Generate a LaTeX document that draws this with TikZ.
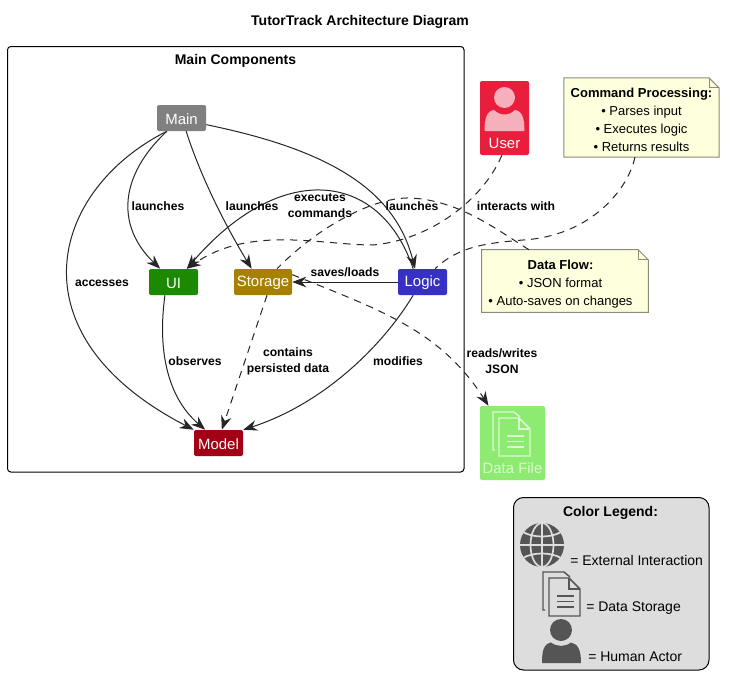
\documentclass[tikz,border=0pt]{standalone}
\usepackage{fontspec}
\setmainfont{Liberation Sans}
\usetikzlibrary{arrows.meta,backgrounds}
\definecolor{cuser}{HTML}{E91E3C}
\definecolor{cpink}{HTML}{F6B0BC}
\definecolor{cui}{HTML}{1B8A00}
\definecolor{cstorage}{HTML}{A88000}
\definecolor{clogic}{HTML}{3730C4}
\definecolor{cmodel}{HTML}{A20014}
\definecolor{cfile}{HTML}{8CEB70}
\definecolor{cfilel}{HTML}{DDF8D2}
\definecolor{cnote}{HTML}{FEFFDD}
\definecolor{cnoteb}{HTML}{8A8A78}
\definecolor{clegend}{HTML}{DDDDDD}
\definecolor{cicon}{HTML}{555555}
\newcommand{\docicon}[2]{%
  \begin{scope}[shift={#1},draw=#2,line width=1.1pt,line join=miter]
    \draw (0,38) -- (-2,38) -- (-2,0) -- (19,0) -- (25,5);
    \draw (4,6) -- (24,6) -- (35,17) -- (35,44) -- (4,44) -- cycle;
    \draw (24,6) -- (24,17) -- (35,17);
    \draw (12,24) -- (29,24) (12,29.5) -- (29,29.5) (12,35) -- (29,35);
  \end{scope}}
\tikzset{
  x=0.75pt,y=-0.75pt,
  comp/.style={rounded corners=1.5pt,text=white,inner sep=0pt,minimum height=19.5pt},
  comptext/.style={text=white,inner sep=0pt,font=\fontsize{11.2}{13}\selectfont},
  elabel/.style={align=center,font=\fontsize{9.1}{12}\bfseries\selectfont,inner sep=0pt},
  notetext/.style={align=center,font=\fontsize{9.75}{13.5}\selectfont,inner sep=0pt},
  legtext/.style={anchor=west,inner sep=0pt,font=\fontsize{10.5}{12}\selectfont},
  conn/.style={draw=black!85,line width=0.75pt,-{Stealth[length=10.5pt,width=8pt,inset=3.5pt]}},
  dconn/.style={conn,dash pattern=on 5.5pt off 4.5pt},
  dline/.style={draw=black!85,line width=0.75pt,dash pattern=on 5.5pt off 4.5pt},
  noteshape/.style={fill=cnote,draw=cnoteb,line width=0.75pt},
}
\begin{document}
\begin{tikzpicture}
\useasboundingbox (0,0) rectangle (733,689);
\begin{pgfonlayer}{background}
\fill[white] (0,0) rectangle (733,689);
\end{pgfonlayer}
% frame and title
\draw[black,line width=0.75pt,rounded corners=2.5pt,fill=white] (7.5,46.5) rectangle (464,472);
\node[inner sep=0pt,font=\fontsize{10.5}{12}\bfseries\selectfont] (title) at (360,21.5) {TutorTrack Architecture Diagram};
\node[inner sep=0pt,font=\fontsize{10.5}{12}\bfseries\selectfont] (maint) at (235.5,60.5) {Main Components};
% components
\node[comp,fill=gray,minimum width=36.75pt] (main) at (181.5,118) {};
\node[comp,fill=cui,minimum width=36.75pt] (ui) at (173.5,282) {};
\node[comp,fill=cstorage,minimum width=43.5pt] (storage) at (263,282) {};
\node[comp,fill=clogic,minimum width=36.75pt] (logic) at (422.5,282) {};
\node[comp,fill=cmodel,minimum width=36.75pt] (model) at (218.5,443) {};
\node[comptext] at (181.5,119) {Main};
\node[comptext] at (173.5,283) {UI};
\node[comptext] at (263,283) {Storage};
\node[comptext] at (422.5,283) {Logic};
\node[comptext] at (218.5,444) {Model};
% user
\node[comp,fill=cuser,minimum width=36.75pt,minimum height=55.5pt] (user) at (504.5,118) {};
\fill[cpink] (504.5,97.5) circle (10.5*0.75pt);
\fill[cpink] (484.5,131) .. controls (484.5,118) and (487,111) .. (494,110) .. controls (500,116) and (509,116) .. (515,110) .. controls (522,111) and (524.5,118) .. (524.5,131) -- cycle;
\node[comptext] (usert) at (504.5,143) {User};
% data file
\node[comp,fill=cfile,minimum width=48.75pt,minimum height=55.5pt] (file) at (512.5,443) {};
\docicon{(495,412)}{cfilel}
\node[comptext,text=cfilel] (filet) at (512.5,468) {Data File};
% notes
\node[inner sep=0pt,minimum width=116pt,minimum height=59pt] (n1) at (641.5,117.5) {};
\node[inner sep=0pt,minimum width=124.5pt,minimum height=46.5pt] (n2) at (565,281) {};
\path[noteshape] (n1.north west) -- ([xshift=-7.5pt]n1.north east) -- ([yshift=-7.5pt]n1.north east) -- (n1.south east) -- (n1.south west) -- cycle;
\draw[noteshape,fill=none] ([xshift=-7.5pt]n1.north east) -- ([xshift=-7.5pt,yshift=-7.5pt]n1.north east) -- ([yshift=-7.5pt]n1.north east);
\node[notetext] (n1t) at (641.5,119.5) {\textbf{Command Processing:}\\• Parses input\\• Executes logic\\• Returns results};
\path[noteshape] (n2.north west) -- ([xshift=-7.5pt]n2.north east) -- ([yshift=-7.5pt]n2.north east) -- (n2.south east) -- (n2.south west) -- cycle;
\draw[noteshape,fill=none] ([xshift=-7.5pt]n2.north east) -- ([xshift=-7.5pt,yshift=-7.5pt]n2.north east) -- ([yshift=-7.5pt]n2.north east);
\node[notetext] (n2t) at (560.5,284) {\textbf{Data Flow:}\\• JSON format\\• Auto-saves on changes};
% connectors
\draw[conn] ([xshift=-11pt]main.south) .. controls (50,190) and (10,335) .. (model.north west);
\draw[conn] ([xshift=-11pt]main.south) .. controls (120,175) and (115,225) .. ([xshift=-10pt]ui.north);
\draw[conn] ([xshift=3.5pt]main.south) .. controls (200,175) and (225,225) .. ([xshift=-8.5pt]storage.north);
\draw[conn] ([yshift=-5pt]main.east) .. controls (330,150) and (395,190) .. ([xshift=-5.6pt]logic.north);
\draw[conn] ([xshift=-7pt]logic.north) .. controls (380,170) and (280,160) .. ([xshift=10pt]ui.north);
\draw[conn] (logic.west) -- (storage.east);
\draw[conn] ([xshift=-6.4pt]ui.south) .. controls (158,345) and (165,395) .. ([xshift=-10pt]model.north);
\draw[dconn] ([xshift=3pt]storage.south) -- ([xshift=2.5pt]model.north);
\draw[conn] ([xshift=-7pt]logic.south) .. controls (380,350) and (320,405) .. (model.north east);
\draw[dconn] ([yshift=5.5pt]storage.east) .. controls (380,310) and (440,330) .. ([xshift=-18pt]file.north);
\draw[dconn] ([xshift=-2pt]user.south) .. controls (483,200) and (430,240) .. (373,245) .. controls (320,245) and (250,225) .. ([xshift=10pt]ui.north);
\draw[dline] ([xshift=-27pt]n2.north) .. controls (500,232) and (460,200) .. (410,198) .. controls (375,197) and (320,225) .. ([xshift=10.5pt]storage.north);
\draw[dline] ([xshift=-4.9pt]n1.south) .. controls (628,190) and (590,236) .. (523,240) .. controls (490,243) and (460,245) .. ([xshift=9.4pt]logic.north);
% edge labels
\node[elabel] (l1) at (102,283) {accesses};
\node[elabel] (l2) at (158,206) {launches};
\node[elabel] (l3) at (252,206) {launches};
\node[elabel] (l4) at (412,206) {launches};
\node[elabel] (l5) at (320,206) {executes\\commands};
\node[elabel] (l6) at (516,206) {interacts with};
\node[elabel] (l7) at (345,272) {saves/loads};
\node[elabel] (l8) at (195,361) {observes};
\node[elabel] (l9) at (288,361.5) {contains\\persisted data};
\node[elabel] (l10) at (398,361) {modifies};
\node[elabel] (l11) at (502,361) {reads/writes\\JSON};
% legend
\draw[black,line width=0.75pt,rounded corners=7.5pt,fill=clegend] (513.5,497.5) rectangle (709,670);
\node[inner sep=0pt,font=\fontsize{10.5}{12}\bfseries\selectfont] (legt) at (610.5,513) {Color Legend:};
\fill[cicon] (542,545) circle (22*0.75pt);
\begin{scope}[draw=clegend,line width=1.3pt]
\draw (542,523) -- (542,567);
\draw (542,545) ellipse (11.5*0.75pt and 22*0.75pt);
\draw (520,545) -- (564,545);
\draw (523,532) .. controls (533,538) and (551,538) .. (561,532);
\draw (523,558) .. controls (533,552) and (551,552) .. (561,558);
\end{scope}
\docicon{(545,572)}{cicon}
\fill[cicon] (561,630) circle (11*0.75pt);
\fill[cicon] (542,663) .. controls (542,650) and (544,644) .. (551,642.5) .. controls (557,647) and (565,647) .. (571,642.5) .. controls (578,644) and (581,650) .. (581,663) -- cycle;
\node[legtext] (lg1) at (570,560.5) {= External Interaction};
\node[legtext] (lg2) at (586,608.5) {= Data Storage};
\node[legtext] (lg3) at (588,656.5) {= Human Actor};
\end{tikzpicture}
\end{document}
